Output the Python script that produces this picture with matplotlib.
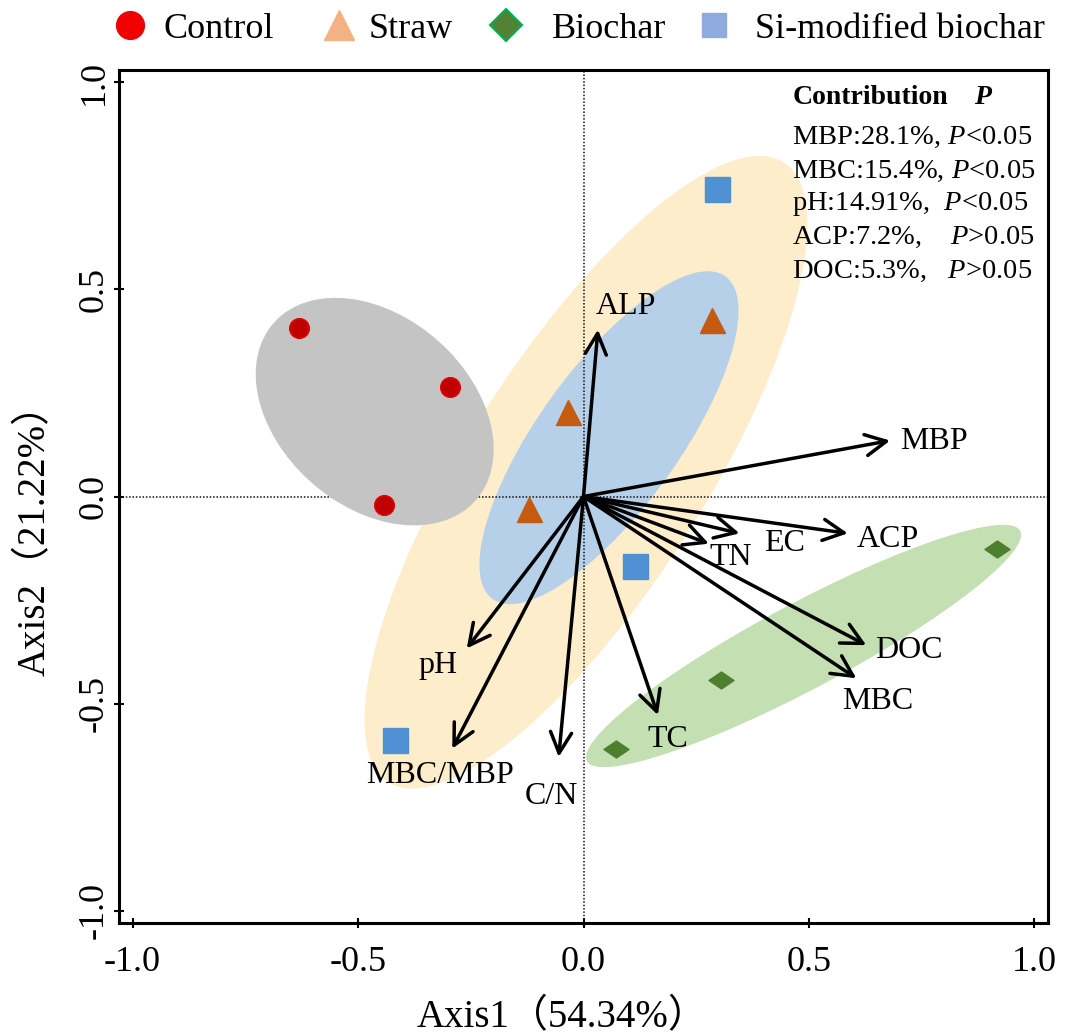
import matplotlib
matplotlib.use('Agg')
import matplotlib.pyplot as plt
from matplotlib.patches import Ellipse
from matplotlib.lines import Line2D
from matplotlib.path import Path

plt.rcParams['font.family'] = ['Liberation Serif', 'Noto Sans CJK SC']
plt.rcParams['mathtext.fontset'] = 'custom'
plt.rcParams['mathtext.rm'] = 'Liberation Serif'
plt.rcParams['mathtext.it'] = 'Liberation Serif:italic'
plt.rcParams['mathtext.bf'] = 'Liberation Serif:bold'
plt.rcParams['axes.unicode_minus'] = False

# ---------------- data ----------------
groups = ['Control', 'Straw', 'Biochar', 'Si-modified biochar']

control_x = [-0.631, -0.295, -0.443]
control_y = [0.406, 0.264, -0.020]
straw_x = [0.285, -0.034, -0.120]
straw_y = [0.427, 0.204, -0.030]
biochar_x = [0.916, 0.304, 0.071]
biochar_y = [-0.127, -0.444, -0.609]
si_x = [0.296, 0.115, -0.417]
si_y = [0.742, -0.169, -0.589]

env_vars = ['ALP', 'MBP', 'EC', 'ACP', 'TN', 'DOC', 'MBC', 'TC', 'C/N', 'MBC/MBP', 'pH']
env_x = [0.032, 0.680, 0.346, 0.586, 0.278, 0.627, 0.605, 0.165, -0.055, -0.291, -0.259]
env_y = [0.403, 0.135, -0.089, -0.089, -0.114, -0.359, -0.439, -0.528, -0.629, -0.609, -0.367]

# confidence ellipses (data units): Control, Si-modified, Straw, Biochar
ell_groups = ['Control', 'Si-modified biochar', 'Straw', 'Biochar']
ell_cx = [-0.463, 0.0055, 0.0565, 0.488]
ell_cy = [0.205, 0.0586, 0.142, -0.361]
ell_w = [0.622, 1.735, 0.935, 1.110]
ell_h = [0.440, 0.537, 0.320, 0.203]
ell_ang = [-48.5, 60.1, 57.1, 30.2]

contrib_vars = ['MBP', 'MBC', 'pH', 'ACP', 'DOC']
contrib_pct = ['28.1', '15.4', '14.91', '7.2', '5.3']
contrib_p = ['<0.05', '<0.05', '<0.05', '>0.05', '>0.05']

ticks = [-1.0, -0.5, 0.0, 0.5, 1.0]
xlabel = 'Axis1\uff0854.34%\uff09'
ylabel = 'Axis2\uff0821.22%\uff09'

# ---------------- layout / style ----------------
label_x = [0.095, 0.776, 0.446, 0.675, 0.327, 0.721, 0.653, 0.187, -0.072, -0.319, -0.323]
label_y = [0.458, 0.133, -0.113, -0.103, -0.147, -0.373, -0.494, -0.587, -0.724, -0.673, -0.407]
ell_colors = {'Control': '#C4C4C4', 'Si-modified biochar': '#FDEDCB',
              'Straw': '#B6D0EA', 'Biochar': '#C4E0B2'}
ell_z = {'Control': 4, 'Si-modified biochar': 1, 'Straw': 2, 'Biochar': 2}

W, H = 1069, 1035
fig = plt.figure(figsize=(W / 100, H / 100), dpi=100)
ax = fig.add_axes([119 / W, 1 - 923 / H, (1048 - 119) / W, (923 - 70) / H])
ax.set_xlim(-1.03, 1.03)
ax.set_ylim(-1.03, 1.03)

for g, cx, cy, w, h, a in zip(ell_groups, ell_cx, ell_cy, ell_w, ell_h, ell_ang):
    ax.add_patch(Ellipse((cx, cy), w, h, angle=a, facecolor=ell_colors[g],
                         edgecolor='none', zorder=ell_z[g]))

ax.axhline(0, color='#111111', lw=1.1, ls=(0, (1, 1.2)), zorder=3)
ax.axvline(0, color='#111111', lw=1.1, ls=(0, (1, 1.2)), zorder=3)

for name, ex, ey, lx, ly in zip(env_vars, env_x, env_y, label_x, label_y):
    ax.annotate('', xy=(ex, ey), xytext=(0, 0),
                arrowprops=dict(arrowstyle='->,head_length=0.75,head_width=0.38',
                                lw=2.5, color='black', shrinkA=0, shrinkB=0,
                                mutation_scale=20), zorder=6)
    ax.text(lx, ly, name, fontsize=23, ha='center', va='center', zorder=5)

diamond = Path([(-1, 0), (0, 0.68), (1, 0), (0, -0.68), (-1, 0)],
               [Path.MOVETO, Path.LINETO, Path.LINETO, Path.LINETO, Path.CLOSEPOLY])

ax.plot(control_x, control_y, ls='none', marker='o', ms=14, mfc='#C00000',
        mec='#E00000', mew=1.2, zorder=7)
ax.plot(straw_x, straw_y, ls='none', marker='^', ms=18, mfc='#C55A11',
        mec='#C55A11', zorder=7)
ax.plot(biochar_x, biochar_y, ls='none', marker=diamond, ms=18, mfc='#4E7F2F',
        mec='#4E7F2F', zorder=7)
ax.plot(si_x, si_y, ls='none', marker='s', ms=18, mfc='#4F91D2',
        mec='#4F91D2', zorder=7)

# contribution table
ax.text(0.4634, 0.9647, 'Contribution', fontsize=20, fontweight='bold',
        ha='left', va='center', zorder=8)
ax.text(0.866, 0.9647, 'P', fontsize=20, fontweight='bold', fontstyle='italic',
        ha='left', va='center', zorder=8)
spaces = [' ', ' ', '  ', '    ', '   ']
row_y = [0.868, 0.7856, 0.7058, 0.626, 0.5443]
for v, pc, p, sp, ry in zip(contrib_vars, contrib_pct, contrib_p, spaces, row_y):
    ax.text(0.4634, ry, f'{v}:{pc}%,{sp}$P${p}', fontsize=20.5, ha='left',
            va='center', zorder=8)

# axes styling
for s in ax.spines.values():
    s.set_linewidth(2.2)
    s.set_zorder(9)
ax.set_xticks(ticks)
ax.set_yticks(ticks)
ax.set_xticklabels([f'{t:.1f}' for t in ticks])
ax.set_yticklabels([f'{t:.1f}' for t in ticks])
ax.tick_params(direction='inout', length=7.7, width=1.5, labelsize=26)
ax.tick_params(axis='x', pad=13)
ax.tick_params(axis='y', pad=2, labelrotation=90)
plt.setp(ax.get_yticklabels(), va='center')

fig.text(562 / W, 1 - 1018 / H, xlabel, fontsize=28, ha='center', va='center')
fig.text(35 / W, 1 - 530 / H, ylabel, fontsize=28, ha='center', va='center',
         rotation=90)

# legend
leg_handles = [
    Line2D([], [], ls='none', marker='o', ms=20, mfc='#F00000', mec='#F00000'),
    Line2D([], [], ls='none', marker='^', ms=21, mfc='#F4B183', mec='#F4B183'),
    Line2D([], [], ls='none', marker='D', ms=16, mfc='#548235', mec='#00B050', mew=1.5),
    Line2D([], [], ls='none', marker='s', ms=17, mfc='#8FAADC', mec='#8FAADC'),
]
leg_x = [112, 321, 488, 696]
leg_pad = [0.42, 0.31, 0.78, 0.64]
for h, g, lx, pad in zip(leg_handles, groups, leg_x, leg_pad):
    lg = fig.legend(handles=[h], labels=[g], loc='center left',
                    bbox_to_anchor=(lx / W, 1 - 29 / H), frameon=False,
                    borderpad=0, borderaxespad=0, handlelength=1.0,
                    handletextpad=pad, fontsize=26)

fig.savefig('out.png', dpi=100)
